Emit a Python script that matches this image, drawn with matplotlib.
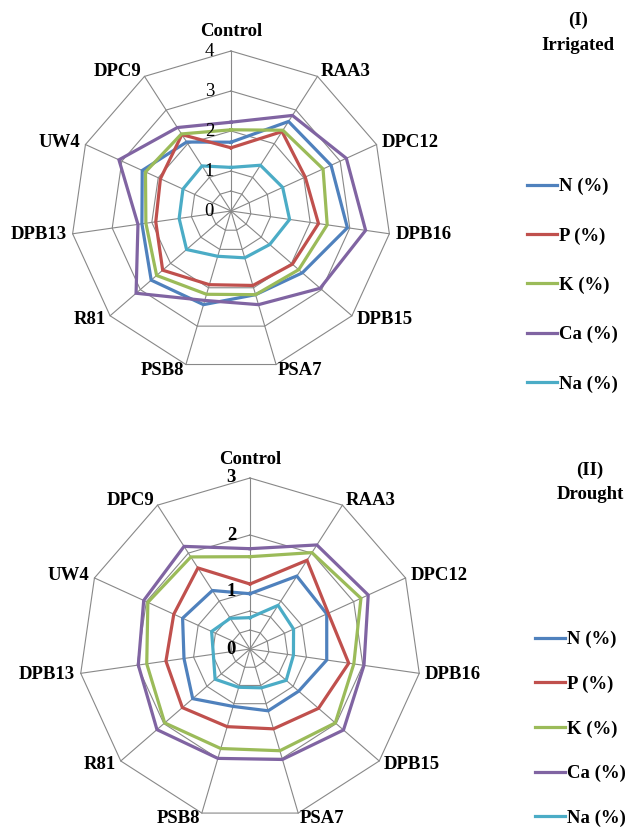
import numpy as np
import matplotlib
matplotlib.use('Agg')
import matplotlib.pyplot as plt

plt.rcParams['font.family'] = 'Liberation Serif'

categories = ['Control', 'RAA3', 'DPC12', 'DPB16', 'DPB15', 'PSA7',
              'PSB8', 'R81', 'DPB13', 'UW4', 'DPC9']
series = ['N (%)', 'P (%)', 'K (%)', 'Ca (%)', 'Na (%)']
colors = ['#4F81BD', '#C0504D', '#9BBB59', '#8064A2', '#4BACC6']

# (I) Irrigated
irr_N  = [1.72, 2.66, 2.75, 2.94, 2.36, 2.18, 2.44, 2.64, 2.25, 2.44, 2.05]
irr_P  = [1.58, 2.36, 2.04, 2.21, 2.03, 1.94, 1.92, 2.26, 1.90, 1.94, 2.27]
irr_K  = [2.03, 2.40, 2.53, 2.43, 2.24, 2.18, 2.17, 2.46, 2.15, 2.35, 2.29]
irr_Ca = [2.22, 2.84, 3.17, 3.40, 2.95, 2.44, 2.33, 3.14, 2.35, 3.08, 2.48]
irr_Na = [1.09, 1.36, 1.42, 1.48, 1.28, 1.22, 1.18, 1.47, 1.31, 1.32, 1.34]

# (II) Drought
dro_N  = [0.97, 1.52, 1.48, 1.36, 1.13, 1.13, 1.05, 1.33, 1.17, 1.30, 1.22]
dro_P  = [1.14, 1.85, 1.51, 1.75, 1.59, 1.46, 1.42, 1.57, 1.49, 1.47, 1.69]
dro_K  = [1.62, 2.01, 2.14, 1.84, 1.98, 1.86, 1.82, 1.98, 1.83, 1.97, 1.92]
dro_Ca = [1.76, 2.17, 2.28, 2.02, 2.17, 2.02, 2.00, 2.16, 1.98, 2.05, 2.14]
dro_Na = [0.55, 0.91, 0.84, 0.77, 0.84, 0.71, 0.70, 0.81, 0.65, 0.74, 0.64]

irr_rings = [0.5, 1, 2, 3, 4]
irr_ticks = [0, 1, 2, 3, 4]
dro_rings = [1/3, 2/3, 1, 2, 3]
dro_ticks = [0, 1, 2, 3]

W, H = 629, 831
FS = 13.5
fig = plt.figure(figsize=(W/100, H/100), dpi=100)

ang = np.arange(len(categories)) * 2*np.pi/len(categories)
sx, cy = np.sin(ang), np.cos(ang)

def radar(cx, cyp, ppu, half, rmax, rings, ticks, data, tickbold, tickoff):
    ax = fig.add_axes([(cx-half)/W, (H-cyp-half)/H, 2*half/W, 2*half/H])
    lim = half/ppu
    ax.set_xlim(-lim, lim)
    ax.set_ylim(-lim, lim)
    ax.axis('off')
    gc = '#888888'
    for r in rings:
        ax.plot(np.append(sx, sx[0])*r, np.append(cy, cy[0])*r, color=gc, lw=0.8, zorder=1)
    for s, c in zip(sx, cy):
        ax.plot([0, s*rmax], [0, c*rmax], color=gc, lw=0.8, zorder=1)
    for vals, col, lab in zip(data, colors, series):
        v = np.array(vals + vals[:1])
        ax.plot(np.append(sx, sx[0])*v, np.append(cy, cy[0])*v, color=col,
                lw=2.3, label=lab, zorder=3, solid_joinstyle='miter')
    for t in ticks:
        ax.text(-tickoff/ppu, t, str(t), ha='right', va='center', fontsize=FS,
                fontweight='bold' if tickbold else 'normal', zorder=4)
    for name, s, c in zip(categories, sx, cy):
        if abs(s) < 0.1:
            ha, pad = 'center', 19/ppu
        else:
            ha, pad = ('left' if s > 0 else 'right'), 6/ppu
        ax.text(s*rmax + s*pad, c*rmax + c*pad, name, ha=ha, va='center',
                fontsize=FS, fontweight='bold')
    return ax

ax1 = radar(231, 211, 40.0, 200, 4, irr_rings, irr_ticks,
            [irr_N, irr_P, irr_K, irr_Ca, irr_Na], False, 17)
ax2 = radar(250, 649, 57.0, 180, 3, dro_rings, dro_ticks,
            [dro_N, dro_P, dro_K, dro_Ca, dro_Na], True, 14)

for txt, x, y in [('(I)', 578, 20), ('Irrigated', 578, 45),
                  ('(II)', 590, 470), ('Drought', 590, 494)]:
    fig.text(x/W, 1-y/H, txt, ha='center', va='center',
             fontsize=FS, fontweight='bold')

for ax, x0, y0, ls in [(ax1, 527, 178, 1.71), (ax2, 535, 631, 1.46)]:
    ax.legend(loc='upper left', bbox_to_anchor=(x0/W, 1-y0/H),
              bbox_transform=fig.transFigure, frameon=False,
              prop={'size': FS, 'weight': 'bold'}, handlelength=1.6,
              handletextpad=0.1, labelspacing=ls, borderpad=0,
              borderaxespad=0)

fig.savefig('out.png', dpi=100)
